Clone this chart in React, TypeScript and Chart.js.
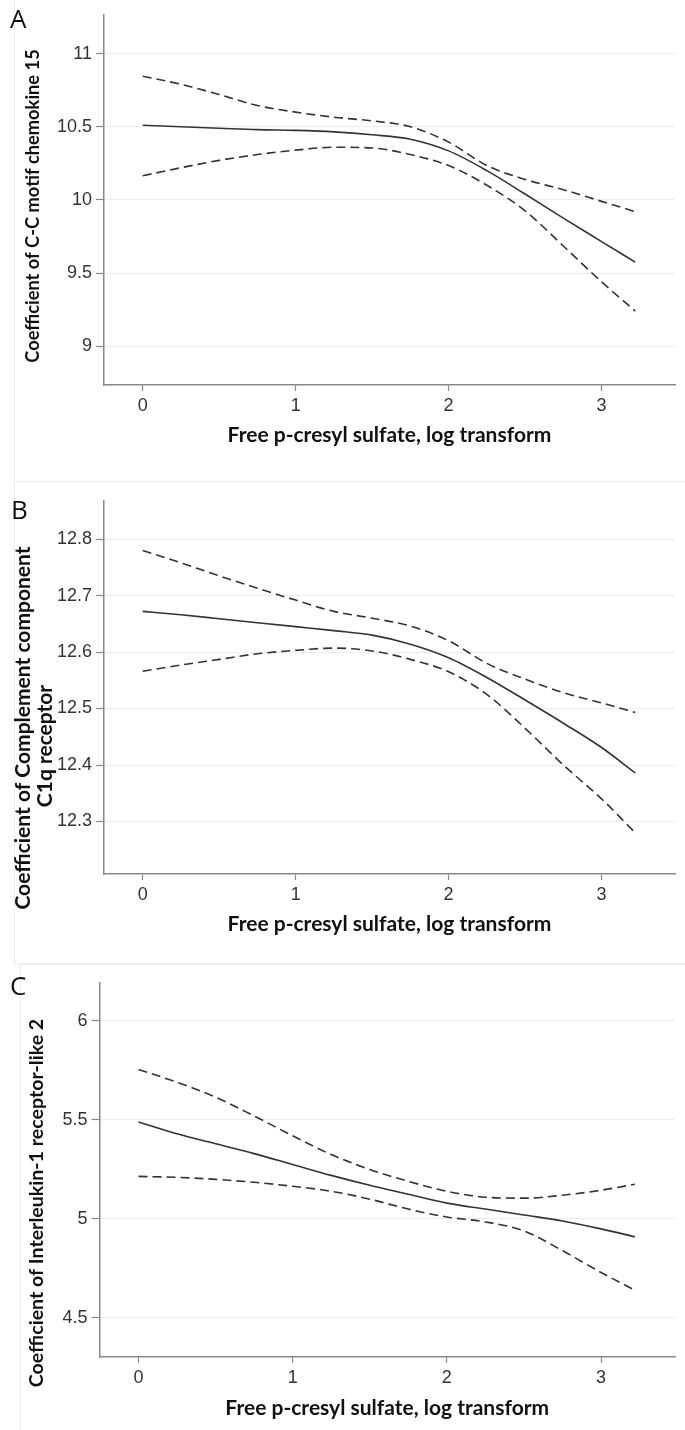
import React, { useEffect, useRef } from "react";
import { Chart, registerables } from "chart.js";

Chart.register(...registerables);

// ---------- data ----------
const xGrid = [0, 0.25, 0.5, 0.75, 1, 1.25, 1.5, 1.75, 2, 2.25, 2.5, 2.75, 3, 3.22];
const xTicks = [0, 1, 2, 3];
const xTitle = "Free p-cresyl sulfate, log transform";

// Panel A: C-C motif chemokine 15
const ccl15Fit = [10.51, 10.5, 10.49, 10.48, 10.475, 10.465, 10.445, 10.415, 10.335, 10.2, 10.04, 9.875, 9.715, 9.575];
const ccl15Upper = [10.845, 10.79, 10.72, 10.645, 10.6, 10.565, 10.54, 10.5, 10.395, 10.235, 10.14, 10.07, 9.99, 9.92];
const ccl15Lower = [10.165, 10.22, 10.27, 10.31, 10.34, 10.36, 10.355, 10.31, 10.235, 10.1, 9.925, 9.685, 9.44, 9.24];
const yTicksA = [9, 9.5, 10, 10.5, 11];
const yTitleA = ["Coefficient of C-C motif chemokine 15"];

// Panel B: Complement component C1q receptor
const c1qrFit = [12.672, 12.666, 12.659, 12.652, 12.645, 12.638, 12.63, 12.614, 12.59, 12.555, 12.515, 12.474, 12.431, 12.386];
const c1qrUpper = [12.78, 12.758, 12.735, 12.713, 12.692, 12.672, 12.66, 12.646, 12.62, 12.58, 12.552, 12.528, 12.51, 12.493];
const c1qrLower = [12.566, 12.577, 12.587, 12.597, 12.603, 12.607, 12.602, 12.587, 12.565, 12.525, 12.465, 12.4, 12.34, 12.28];
const yTicksB = [12.3, 12.4, 12.5, 12.6, 12.7, 12.8];
const yTitleB = ["Coefficient of Complement component", "C1q receptor"];

// Panel C: Interleukin-1 receptor-like 2
const il1rl2Fit = [5.49, 5.43, 5.38, 5.33, 5.275, 5.22, 5.17, 5.125, 5.08, 5.05, 5.02, 4.99, 4.95, 4.91];
const il1rl2Upper = [5.755, 5.69, 5.615, 5.52, 5.42, 5.325, 5.25, 5.19, 5.14, 5.11, 5.105, 5.12, 5.145, 5.175];
const il1rl2Lower = [5.215, 5.21, 5.2, 5.185, 5.165, 5.14, 5.1, 5.05, 5.01, 4.985, 4.94, 4.84, 4.73, 4.64];
const yTicksC = [4.5, 5, 5.5, 6];
const yTitleC = ["Coefficient of Interleukin-1 receptor-like 2"];

// ---------- layout / style ----------
const W = 685;
const panels = [
  {
    letter: "A", height: 482, fit: ccl15Fit, upper: ccl15Upper, lower: ccl15Lower,
    yTicks: yTicksA, yTitle: yTitleA, yMin: 8.735, yMax: 11.265,
    top: 12, axisLeft: 104, axisBottom: 385,
    letterPos: [10, 28], yTitleX: [33], yTitleCY: [206], yTitleSize: 18.3, xTitleOffset: 57,
    borders: [[14.5, 0, 14.5, 482], [14, 481.5, 685, 481.5]],
  },
  {
    letter: "B", height: 482, fit: c1qrFit, upper: c1qrUpper, lower: c1qrLower,
    yTicks: yTicksB, yTitle: yTitleB, yMin: 12.207, yMax: 12.868,
    top: 18.7, axisLeft: 104, axisBottom: 392,
    letterPos: [11, 37], yTitleX: [23, 45], yTitleCY: [246, 264], yTitleSize: 21, xTitleOffset: 57,
    borders: [[14.5, 0, 14.5, 482], [14, 481.5, 685, 481.5]],
  },
  {
    letter: "C", height: 466, fit: il1rl2Fit, upper: il1rl2Upper, lower: il1rl2Lower,
    yTicks: yTicksC, yTitle: yTitleC, yMin: 4.303, yMax: 6.193,
    top: 18.7, axisLeft: 99.5, axisBottom: 393,
    letterPos: [10, 31], yTitleX: [37], yTitleCY: [239], yTitleSize: 19.6, xTitleOffset: 58,
    borders: [[20.5, 0, 20.5, 466], [20, 0.5, 685, 0.5]],
  },
];

const TITLE_FAMILY = "Lato, 'Open Sans', sans-serif";
const XTITLE_FONT = "bold 21px Lato, 'Open Sans', sans-serif";
const LETTER_FONT = "26px 'Open Sans', sans-serif";
const TICK_FAMILY = "'Liberation Sans', Arial, sans-serif";

const panelDecor = {
  id: "panelDecor",
  beforeDraw(chart: any, _args: any, opts: any) {
    const ctx = chart.ctx;
    ctx.save();
    ctx.strokeStyle = "#ececec";
    ctx.lineWidth = 1;
    (opts.borders || []).forEach((b: number[]) => {
      ctx.beginPath();
      ctx.moveTo(b[0], b[1]);
      ctx.lineTo(b[2], b[3]);
      ctx.stroke();
    });
    ctx.restore();
  },
  afterDraw(chart: any, _args: any, opts: any) {
    const ctx = chart.ctx;
    const ca = chart.chartArea;
    ctx.save();
    ctx.fillStyle = "#111";
    ctx.font = LETTER_FONT;
    ctx.textAlign = "left";
    ctx.textBaseline = "alphabetic";
    ctx.fillText(opts.letter, opts.letterPos[0], opts.letterPos[1]);

    ctx.font = XTITLE_FONT;
    ctx.textAlign = "center";
    ctx.fillText(opts.xTitle, (ca.left + ca.right) / 2, ca.bottom + opts.xTitleOffset);

    ctx.font = `bold ${opts.yTitleSize}px ${TITLE_FAMILY}`;
    ctx.textBaseline = "middle";
    opts.yTitle.forEach((line: string, i: number) => {
      ctx.save();
      ctx.translate(opts.yTitleX[i], opts.yTitleCY[i] ?? opts.yTitleCY[0]);
      ctx.rotate(-Math.PI / 2);
      ctx.fillText(line, 0, 0);
      ctx.restore();
    });
    ctx.restore();
  },
};

function makeConfig(p: any): any {
  const pts = (ys: number[]) => xGrid.map((x, i) => ({ x, y: ys[i] }));
  const lineBase = {
    borderColor: "#333",
    borderWidth: 1.6,
    pointRadius: 0,
    fill: false,
    cubicInterpolationMode: "monotone",
  };
  return {
    type: "line",
    data: {
      datasets: [
        { ...lineBase, label: "upper", data: pts(p.upper), borderDash: [9, 5] },
        { ...lineBase, label: "fit", data: pts(p.fit) },
        { ...lineBase, label: "lower", data: pts(p.lower), borderDash: [9, 5] },
      ],
    },
    options: {
      responsive: false,
      animation: false,
      events: [],
      layout: { padding: { top: p.top, right: W - 675, left: 0, bottom: 0 } },
      plugins: {
        legend: { display: false },
        tooltip: { enabled: false },
        panelDecor: {
          letter: p.letter,
          letterPos: p.letterPos,
          yTitle: p.yTitle,
          yTitleX: p.yTitleX,
          yTitleCY: p.yTitleCY,
          yTitleSize: p.yTitleSize,
          xTitle,
          xTitleOffset: p.xTitleOffset,
          borders: p.borders,
        },
      },
      scales: {
        x: {
          type: "linear",
          min: -0.253,
          max: 3.48,
          afterBuildTicks: (s: any) => { s.ticks = xTicks.map((v) => ({ value: v })); },
          afterFit: (s: any) => { s.height = p.height - p.axisBottom; },
          grid: { drawOnChartArea: false, tickColor: "#888", tickLength: 6, tickWidth: 1.2 },
          border: { color: "#888", width: 1.5 },
          ticks: {
            color: "#333",
            padding: 4,
            maxRotation: 0,
            font: { family: TICK_FAMILY, size: 18 },
            callback: (v: any) => String(v),
          },
        },
        y: {
          type: "linear",
          min: p.yMin,
          max: p.yMax,
          afterBuildTicks: (s: any) => { s.ticks = p.yTicks.map((v: number) => ({ value: v })); },
          afterFit: (s: any) => { s.width = p.axisLeft; },
          grid: { color: "#ececec", lineWidth: 1, tickColor: "#888", tickLength: 8, tickWidth: 1.2 },
          border: { color: "#888", width: 1.5 },
          ticks: {
            color: "#333",
            padding: 4,
            font: { family: TICK_FAMILY, size: 18 },
            callback: (v: any) => String(v),
          },
        },
      },
    },
    plugins: [panelDecor],
  };
}

function Panel({ p }: { p: any }) {
  const ref = useRef<HTMLCanvasElement | null>(null);
  useEffect(() => {
    if (!ref.current) return;
    const chart = new Chart(ref.current, makeConfig(p));
    return () => chart.destroy();
  }, [p]);
  return (
    <canvas
      ref={ref}
      width={W}
      height={p.height}
      style={{ display: "block", width: W, height: p.height }}
    />
  );
}

export default function App() {
  return (
    <div style={{ position: "absolute", left: 0, top: 0, width: W, height: 1430, background: "#fff" }}>
      {panels.map((p) => (
        <Panel key={p.letter} p={p} />
      ))}
    </div>
  );
}
